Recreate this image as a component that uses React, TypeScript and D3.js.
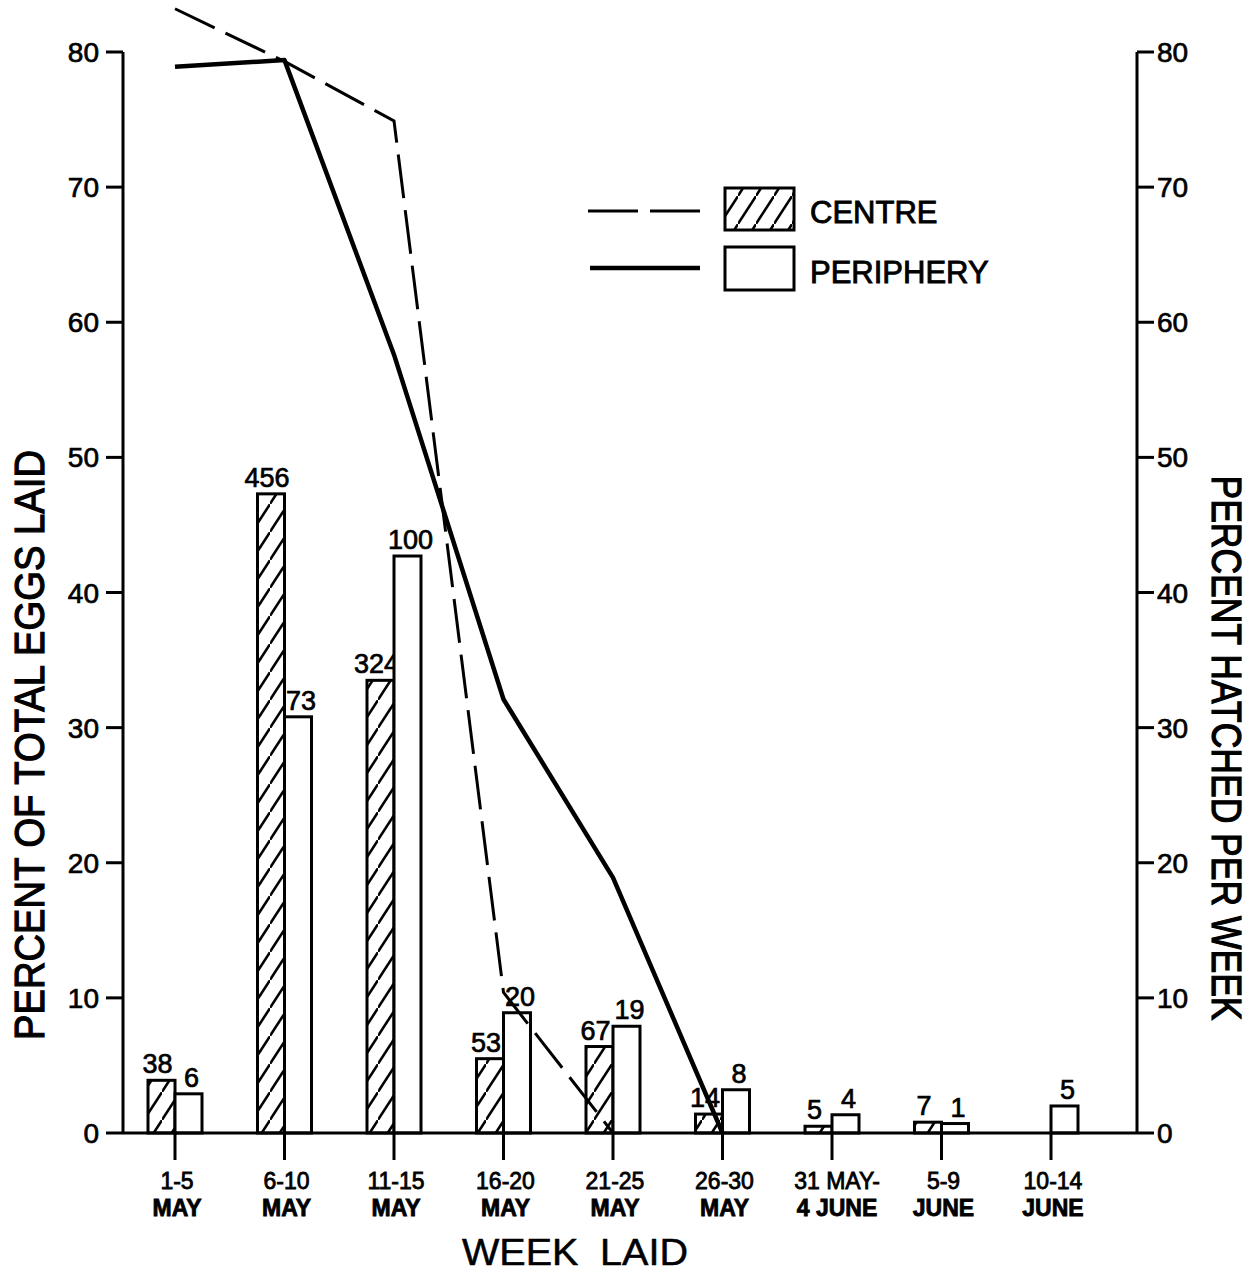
import React, { useRef, useEffect } from "react";
import * as d3 from "d3";

// Week categories (two lines each)
const weekTop = ["1-5", "6-10", "11-15", "16-20", "21-25", "26-30", "31 MAY-", "5-9", "10-14"];
const weekBottom = ["MAY", "MAY", "MAY", "MAY", "MAY", "MAY", "4 JUNE", "JUNE", "JUNE"];

// Percent of total eggs laid (bars)
const centrePct = [3.9, 47.3, 33.5, 5.5, 6.4, 1.4, 0.5, 0.8, null];
const peripheryPct = [2.9, 30.8, 42.7, 8.9, 7.9, 3.2, 1.35, 0.7, 2.0];

// Number of eggs printed above each bar
const centreN = ["38", "456", "324", "53", "67", "14", "5", "7", ""];
const peripheryN = ["6", "73", "100", "20", "19", "8", "4", "1", "5"];

// Percent hatched per week (lines)
const centreHatched = [83.2, 79.3, 74.9, 10.4, 0];
const peripheryHatched = [78.9, 79.4, 57.6, 32.1, 18.9, 0];

const yTicks = [0, 10, 20, 30, 40, 50, 60, 70, 80];

const FONT = "'Liberation Sans', Arial, sans-serif";
const BAR_W = 27;

export default function App() {
  const svgRef = useRef<SVGSVGElement | null>(null);

  useEffect(() => {
    draw();
  }, []);

  // thick "lettering guide" look
  function ink(sel: any, size: number, sw = 0.7) {
    return sel
      .style("font-family", FONT)
      .style("font-size", size + "px")
      .attr("fill", "#000")
      .attr("stroke", "#000")
      .attr("stroke-width", sw);
  }

  function draw() {
    const width = 1251;
    const height = 1274;
    const left = 123;
    const right = 1137;
    const svg = d3.select(svgRef.current);
    svg.selectAll("*").remove();
    svg.attr("width", width).attr("height", height);

    const y = d3.scaleLinear().domain([0, 80]).range([1133, 52]);
    const x = d3.scalePoint<string>().domain(weekTop).range([175, 1051]);

    // hatch pattern
    const defs = svg.append("defs");
    const pat = defs.append("pattern")
      .attr("id", "hatch")
      .attr("patternUnits", "userSpaceOnUse")
      .attr("width", 18)
      .attr("height", 28);
    pat.append("path")
      .attr("d", "M-2,31 L20,-3")
      .attr("stroke", "#000")
      .attr("stroke-width", 2.5);

    const g = svg.append("g");

    // bars
    weekTop.forEach((w, i) => {
      const cx = x(w) as number;
      const c = centrePct[i];
      if (c != null) {
        g.append("rect")
          .attr("x", cx - BAR_W)
          .attr("y", y(c))
          .attr("width", BAR_W)
          .attr("height", y(0) - y(c))
          .attr("fill", "url(#hatch)")
          .attr("stroke", "#000")
          .attr("stroke-width", 3);
        ink(g.append("text")
          .attr("x", cx - BAR_W / 2 - 4)
          .attr("y", y(c) - 7)
          .attr("text-anchor", "middle"), 27)
          .text(centreN[i]);
      }
      const p = peripheryPct[i];
      g.append("rect")
        .attr("x", cx)
        .attr("y", y(p))
        .attr("width", BAR_W)
        .attr("height", y(0) - y(p))
        .attr("fill", "#fff")
        .attr("stroke", "#000")
        .attr("stroke-width", 3);
      ink(g.append("text")
        .attr("x", cx + BAR_W / 2 + 3)
        .attr("y", y(p) - 7)
        .attr("text-anchor", "middle"), 27)
        .text(peripheryN[i]);
    });

    // lines
    const line = d3.line<number>()
      .x((d, i) => x(weekTop[i]) as number)
      .y((d) => y(d));
    g.append("path")
      .attr("d", line(centreHatched))
      .attr("fill", "none")
      .attr("stroke", "#000")
      .attr("stroke-width", 3)
      .attr("stroke-dasharray", "44,12");
    g.append("path")
      .attr("d", line(peripheryHatched))
      .attr("fill", "none")
      .attr("stroke", "#000")
      .attr("stroke-width", 4.5)
      .attr("stroke-linejoin", "round");

    // axes
    const axisG = svg.append("g").attr("stroke", "#000").attr("stroke-width", 3);
    axisG.append("line").attr("x1", left).attr("x2", left).attr("y1", y(80)).attr("y2", y(0));
    axisG.append("line").attr("x1", right).attr("x2", right).attr("y1", y(80)).attr("y2", y(0));
    axisG.append("line").attr("x1", left).attr("x2", right).attr("y1", y(0)).attr("y2", y(0));
    yTicks.forEach((t) => {
      axisG.append("line").attr("x1", left - 17).attr("x2", left).attr("y1", y(t)).attr("y2", y(t));
      axisG.append("line").attr("x1", right).attr("x2", right + 17).attr("y1", y(t)).attr("y2", y(t));
    });
    weekTop.forEach((w) => {
      axisG.append("line").attr("x1", x(w)).attr("x2", x(w)).attr("y1", y(0)).attr("y2", y(0) + 27);
    });

    yTicks.forEach((t) => {
      ink(svg.append("text")
        .attr("x", 99)
        .attr("y", y(t) + 10)
        .attr("text-anchor", "end"), 28)
        .text(t);
      ink(svg.append("text")
        .attr("x", 1157)
        .attr("y", y(t) + 10), 28)
        .text(t);
    });

    weekTop.forEach((w, i) => {
      const cx = (x(w) as number) + (i === 6 ? 5 : 2);
      ink(svg.append("text")
        .attr("x", cx)
        .attr("y", 1189)
        .attr("text-anchor", "middle"), 23, 0.8)
        .text(w);
      ink(svg.append("text")
        .attr("x", cx)
        .attr("y", 1216)
        .attr("text-anchor", "middle"), 23, 0.8)
        .style("font-weight", "bold")
        .text(weekBottom[i]);
    });

    // axis titles
    ink(svg.append("text")
      .attr("x", 575)
      .attr("y", 1265)
      .attr("text-anchor", "middle")
      .attr("textLength", 226)
      .attr("lengthAdjust", "spacingAndGlyphs"), 37, 0.5)
      .style("word-spacing", "10px")
      .text("WEEK LAID");
    ink(svg.append("text")
      .attr("transform", "translate(44,745) rotate(-90)")
      .attr("text-anchor", "middle")
      .attr("textLength", 590)
      .attr("lengthAdjust", "spacingAndGlyphs"), 42, 1.2)
      .text("PERCENT OF TOTAL EGGS LAID");
    ink(svg.append("text")
      .attr("transform", "translate(1212,748) rotate(90)")
      .attr("text-anchor", "middle")
      .attr("textLength", 545)
      .attr("lengthAdjust", "spacingAndGlyphs"), 42, 1.2)
      .text("PERCENT HATCHED PER WEEK");

    // legend
    const leg = svg.append("g");
    leg.append("line")
      .attr("x1", 588).attr("x2", 700).attr("y1", 211).attr("y2", 211)
      .attr("stroke", "#000").attr("stroke-width", 3).attr("stroke-dasharray", "50,12");
    leg.append("line")
      .attr("x1", 590).attr("x2", 700).attr("y1", 268).attr("y2", 268)
      .attr("stroke", "#000").attr("stroke-width", 4.5);
    leg.append("rect")
      .attr("x", 725).attr("y", 188).attr("width", 69).attr("height", 42)
      .attr("fill", "url(#hatch)").attr("stroke", "#000").attr("stroke-width", 3);
    leg.append("rect")
      .attr("x", 725).attr("y", 247).attr("width", 69).attr("height", 43)
      .attr("fill", "#fff").attr("stroke", "#000").attr("stroke-width", 3);
    ink(leg.append("text").attr("x", 810).attr("y", 223), 31, 0.9).text("CENTRE");
    ink(leg.append("text").attr("x", 810).attr("y", 283), 31, 0.9).text("PERIPHERY");
  }

  return (
    <div style={{ position: "absolute", left: 0, top: 0, background: "#fff" }}>
      <svg ref={svgRef} style={{ display: "block" }}></svg>
    </div>
  );
}
